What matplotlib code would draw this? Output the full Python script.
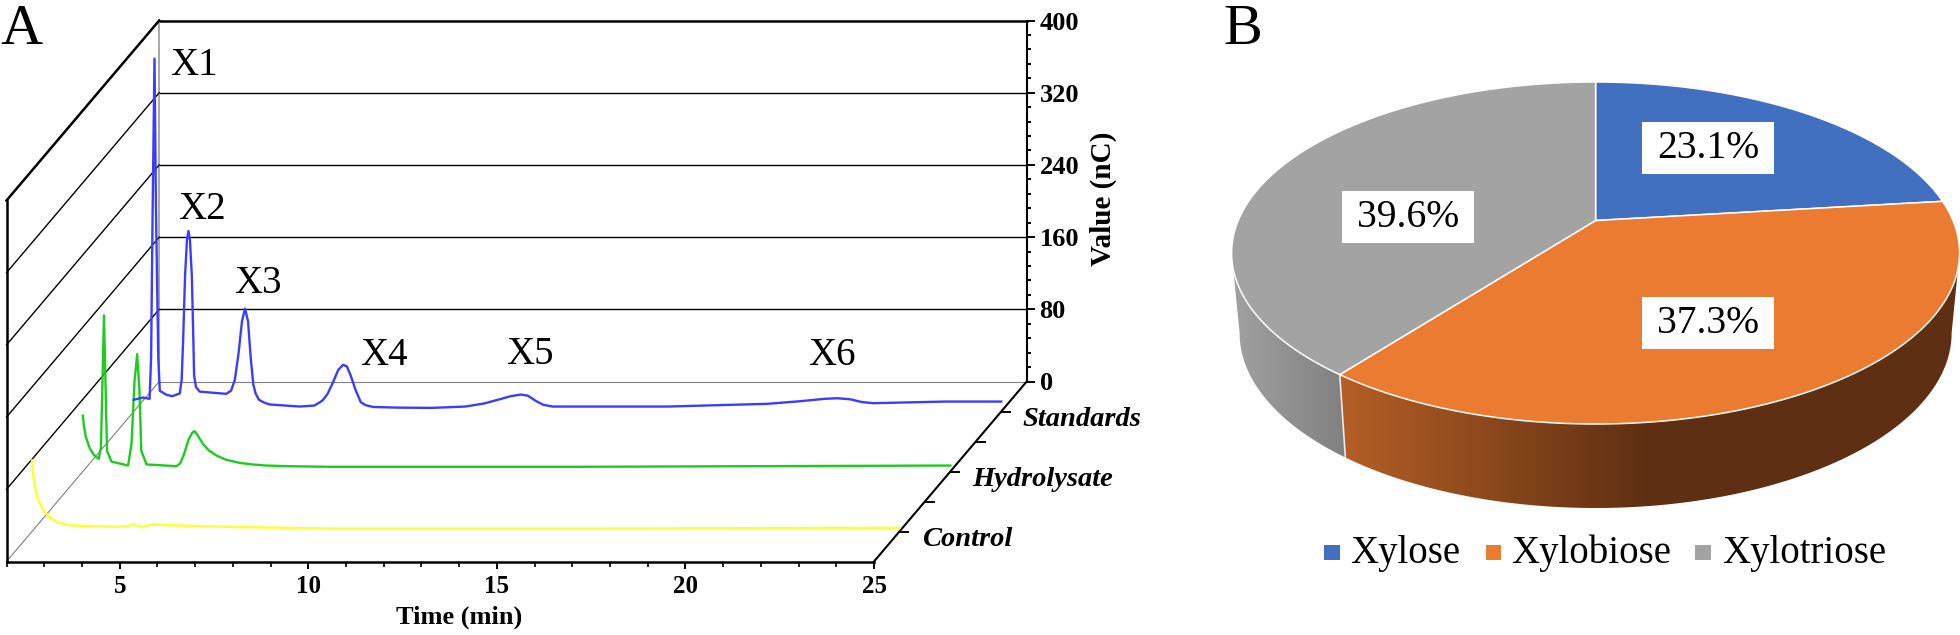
import numpy as np
import matplotlib
matplotlib.use("Agg")
import matplotlib.pyplot as plt
from matplotlib.colors import LinearSegmentedColormap
from matplotlib.patches import Polygon, Rectangle

plt.rcParams['font.family'] = ['Liberation Serif', 'DejaVu Serif']

W, H = 1960, 635

# chromatograms (time in min, value in nC)
std_t = [2.0, 2.25, 2.42, 2.46, 2.50, 2.55, 2.59, 2.65, 2.69, 2.86, 3.02, 3.22, 3.27, 3.31, 3.36, 3.41, 3.45, 3.49, 3.54, 3.58, 3.60, 3.65, 3.75,
         4.45, 4.58, 4.68, 4.78, 4.87, 4.95, 5.03, 5.10, 5.17, 5.23, 5.32, 5.45, 5.6, 6.4, 6.79, 7.0, 7.14, 7.28, 7.42, 7.55, 7.65, 7.75, 7.88, 8.02, 8.15, 8.35, 9.0,
         9.9, 10.8, 11.3, 11.68, 12.0, 12.27, 12.45, 12.65, 12.85, 13.1, 16.17, 18.8, 19.7, 20.3, 20.65, 21.0, 21.3, 21.6, 23.5, 25.0]
std_v = [13, 15.5, 14, 60, 220, 391, 220, 60, 23, 18.6, 17, 20, 35, 80, 150, 190, 200, 190, 150, 80, 40, 27, 22,
         19.6, 23, 35, 65, 100, 114, 100, 60, 30, 20, 13, 10, 7.8, 5.5, 6.6, 12, 19.6, 32, 46, 51.7, 50, 40, 24, 10.3, 7, 5, 4.3,
         4, 5.5, 9, 13.3, 17, 18.8, 17.5, 12, 7.5, 5.5, 5.5, 8.5, 11.5, 14, 14.7, 13.5, 10.5, 9.2, 11, 11]
hyd_t = [2.0, 2.03, 2.08, 2.19, 2.3, 2.42, 2.48, 2.52, 2.56, 2.60, 2.64, 2.76, 3.2, 3.29, 3.37, 3.44, 3.5, 3.55, 3.69,
         4.48, 4.58, 4.68, 4.8, 4.9, 4.96, 5.03, 5.18, 5.35, 5.54, 5.8, 6.15, 6.5, 6.86, 7.5, 8.6, 15.0, 25.0]
hyd_v = [62, 50, 38, 25, 18, 14, 27, 100, 173, 100, 23, 11, 6.6, 30.7, 100, 130, 90, 23, 7.8,
         5.9, 9, 19, 35, 43, 44.7, 41, 30.7, 23, 17.7, 13, 9.6, 7.8, 6.6, 5.8, 5.2, 5.2, 6.6]
ctl_t = [2.0, 2.04, 2.08, 2.16, 2.26, 2.36, 2.48, 2.6, 2.74, 3.09, 4.24, 4.55, 4.68, 4.94, 5.17, 5.56, 7.3, 9.97, 17.0, 25.0]
ctl_v = [78.7, 62, 49, 36, 27, 20.5, 15.9, 12, 9.2, 6.6, 5.2, 5.9, 7.8, 4.8, 8, 7, 5, 3.3, 3.3, 4]

depth_labels = ['Control', 'Hydrolysate', 'Standards']
depth_pos = [1 / 6, 3 / 6, 5 / 6]
depth_minor = [2 / 6, 4 / 6]
trace_colors = ['#ffff30', '#1ecb1e', '#3c3cff']

value_ticks = [0, 80, 160, 240, 320, 400]
time_ticks = [5, 10, 15, 20, 25]

peak_labels = ['X1', 'X2', 'X3', 'X4', 'X5', 'X6']
peak_x = [170, 178, 234, 360, 506, 808]
peak_y = [75, 219, 293, 365, 364, 365]

pie_names = ['Xylose', 'Xylobiose', 'Xylotriose']
pie_values = [23.1, 37.3, 39.6]
pie_colors = ['#4270c0', '#eb7b30', '#a3a3a3']
pie_label_pos = [(1708, 148), (1708, 322.5), (1408, 216.5)]
legend_box_x = [1324, 1485.5, 1695]
legend_text_x = [1350.5, 1511.5, 1722]


def axes_px(left, top, right, bottom):
    return fig.add_axes([left / W, 1 - bottom / H, (right - left) / W, (bottom - top) / H])


fig = plt.figure(figsize=(W / 100, H / 100), dpi=100)

# back wall carries the value axis
ax_back = axes_px(158.7, 20.5, 1027, 381.5)
ax_back.set_xlim(0, 1)
ax_back.set_ylim(0, 400)
ax_back.patch.set_visible(False)
for s in ['top', 'bottom']:
    ax_back.spines[s].set_visible(False)
ax_back.spines['left'].set_color('#a8a8a8')
ax_back.spines['left'].set_linewidth(1.4)
ax_back.spines['right'].set_linewidth(1.5)
ax_back.set_xticks([])
ax_back.yaxis.tick_right()
ax_back.set_yticks(value_ticks)
ax_back.set_yticks(np.arange(0, 401, 16), minor=True)
ax_back.tick_params(axis='y', which='major', length=6, width=1.4, pad=3, labelsize=19)
ax_back.tick_params(axis='y', which='minor', length=3, width=1.4)
for lab in ax_back.get_yticklabels():
    lab.set_fontweight('bold')
for v in value_ticks:
    if v == 0:
        ax_back.axhline(v, color='#808080', lw=0.8, clip_on=False)
    elif v == 400:
        ax_back.axhline(v, color='black', lw=1.8, clip_on=False)
    else:
        ax_back.axhline(v, color='black', lw=1.0)

# front plane: time axis, traces are pushed back from it by depth
ax = axes_px(6.5, 200.5, 874, 561.5)
ax.set_xlim(2, 25)
ax.set_ylim(0, 400)
ax.patch.set_visible(False)
ax.spines['top'].set_visible(False)
ax.spines['right'].set_visible(False)
ax.spines['left'].set_linewidth(1.8)
ax.spines['bottom'].set_linewidth(1.8)
ax.set_yticks([])
ax.set_xticks(time_ticks)
ax.set_xticks(np.arange(2, 26, 1), minor=True)
ax.tick_params(axis='x', which='major', length=5, width=1.4, pad=5, labelsize=18)
ax.tick_params(axis='x', which='minor', length=3.5, width=1.2)
for lab in ax.get_xticklabels():
    lab.set_fontweight('bold')

dx_per_depth = 152.7 / (867.5 / 23)
dy_per_depth = 180 / (361 / 400)


def px(t, d):
    return np.asarray(t, dtype=float) + d * dx_per_depth


def py(v, d):
    return np.asarray(v, dtype=float) + d * dy_per_depth


# side wall lines
for v in value_ticks:
    col, lw = ('black', 1.0)
    if v == 0:
        col, lw = ('#808080', 0.8)
    if v == 400:
        lw = 1.8
    ax.plot([2, px(2, 1)], [v, py(v, 1)], color=col, lw=lw, clip_on=False, zorder=1)

# depth axis
ax.plot([25, px(25, 1)], [0, py(0, 1)], color='black', lw=1.5, clip_on=False, zorder=2)
tick_t = 9 / (867.5 / 23)
for d in depth_pos + depth_minor:
    ax.plot([px(25, d), px(25, d) + tick_t], [py(0, d), py(0, d)], color='black', lw=1.4, clip_on=False, zorder=2)

for t, v, d, c in zip([ctl_t, hyd_t, std_t], [ctl_v, hyd_v, std_v], depth_pos, trace_colors):
    ax.plot(px(t, d), py(v, d), color=c, lw=1.7, clip_on=False, zorder=3, solid_joinstyle='round')

# everything placed by picture position goes on this overlay
ov = fig.add_axes([0, 0, 1, 1])
ov.set_xlim(0, W)
ov.set_ylim(H, 0)
ov.axis('off')

ov.text(0, 43.5, 'A', fontsize=42, va='baseline', ha='left')
ov.text(1223, 44, 'B', fontsize=42, va='baseline', ha='left')
for s, x, y in zip(peak_labels, peak_x, peak_y):
    ov.text(x, y, s, fontsize=28, va='baseline', ha='left')
ov.text(459, 617, 'Time (min)', fontsize=19, fontweight='bold', ha='center', va='center')
ov.text(1103, 199, 'Value (nC)', fontsize=21, fontweight='bold', rotation=90, ha='center', va='center')
for s, x, y in zip(depth_labels, [922, 972, 1022], [539, 480, 419]):
    ov.text(x, y, s, fontsize=20.5, fontweight='bold', fontstyle='italic', ha='left', va='center')

# pie: circle pushed through a perspective map onto the top ellipse
cx, cy, rx, ry = 1595.6, 253, 364, 171
b = 0.19
bcy, brx, bry = 333, 356, 175


def persp(u, v):
    vv = (v + b) / (1 + b * v)
    uu = u * np.sqrt(1 - b ** 2) / (1 + b * v)
    return cx + rx * uu, cy - ry * vv


def wedge_pts(a0, a1):
    a = np.radians(np.linspace(a0, a1, 120))
    return persp(np.sin(a), np.cos(a))


def side_poly(p0, p1):
    p = np.radians(np.linspace(p0, p1, 120))
    top = np.column_stack([cx + rx * np.cos(p), cy - ry * np.sin(p)])
    bot = np.column_stack([cx + brx * np.cos(p), bcy - bry * np.sin(p)])
    return np.vstack([top, bot[::-1]])


cum = np.cumsum([0] + pie_values) * 3.6
sx, sy = persp(np.sin(np.radians(cum[2])), np.cos(np.radians(cum[2])))
sep_phi = np.degrees(np.arctan2(-(sy - cy) / ry, (sx - cx) / rx)) % 360

sides = [(sep_phi, 360, ['#b55f26', '#5e2f12', '#5e2f12'], 1340, 1960),
         (180, sep_phi, ['#a2a2a2', '#808080'], 1230, 1345)]
for p0, p1, cols, x0, x1 in sides:
    patch = Polygon(side_poly(p0, p1), closed=True, fc='none', ec='none')
    ov.add_patch(patch)
    cmap = LinearSegmentedColormap.from_list('side', cols)
    im = ov.imshow(np.linspace(0, 1, 256)[None, :], cmap=cmap, extent=[x0, x1, 520, 250], aspect='auto', zorder=1)
    im.set_clip_path(patch)

ov.plot([sx, cx + brx * np.cos(np.radians(sep_phi))], [sy, bcy - bry * np.sin(np.radians(sep_phi))],
        color='#e8e8e8', lw=1.2, zorder=2)

for i, c in enumerate(pie_colors):
    ex, ey = wedge_pts(cum[i], cum[i + 1])
    ax_, ay_ = persp(0.0, 0.0)
    pts = np.column_stack([np.r_[ax_, ex], np.r_[ay_, ey]])
    ov.add_patch(Polygon(pts, closed=True, fc=c, ec='white', lw=1.1, zorder=3, joinstyle='round'))

for (x, y), val in zip(pie_label_pos, pie_values):
    ov.add_patch(Rectangle((x - 66, y - 26), 132, 52, fc='white', ec='none', zorder=4))
    ov.text(x, y + 1, '%.1f%%' % val, fontsize=28.5, ha='center', va='center', zorder=5)

for s, bx, tx, c in zip(pie_names, legend_box_x, legend_text_x, pie_colors):
    ov.add_patch(Rectangle((bx, 545), 15.5, 15, fc=c, ec='none', zorder=4))
    ov.text(tx, 563.5, s, fontsize=28, ha='left', va='baseline', zorder=5)

ov.set_xlim(0, W)
ov.set_ylim(H, 0)

fig.savefig('out.png', dpi=100)
